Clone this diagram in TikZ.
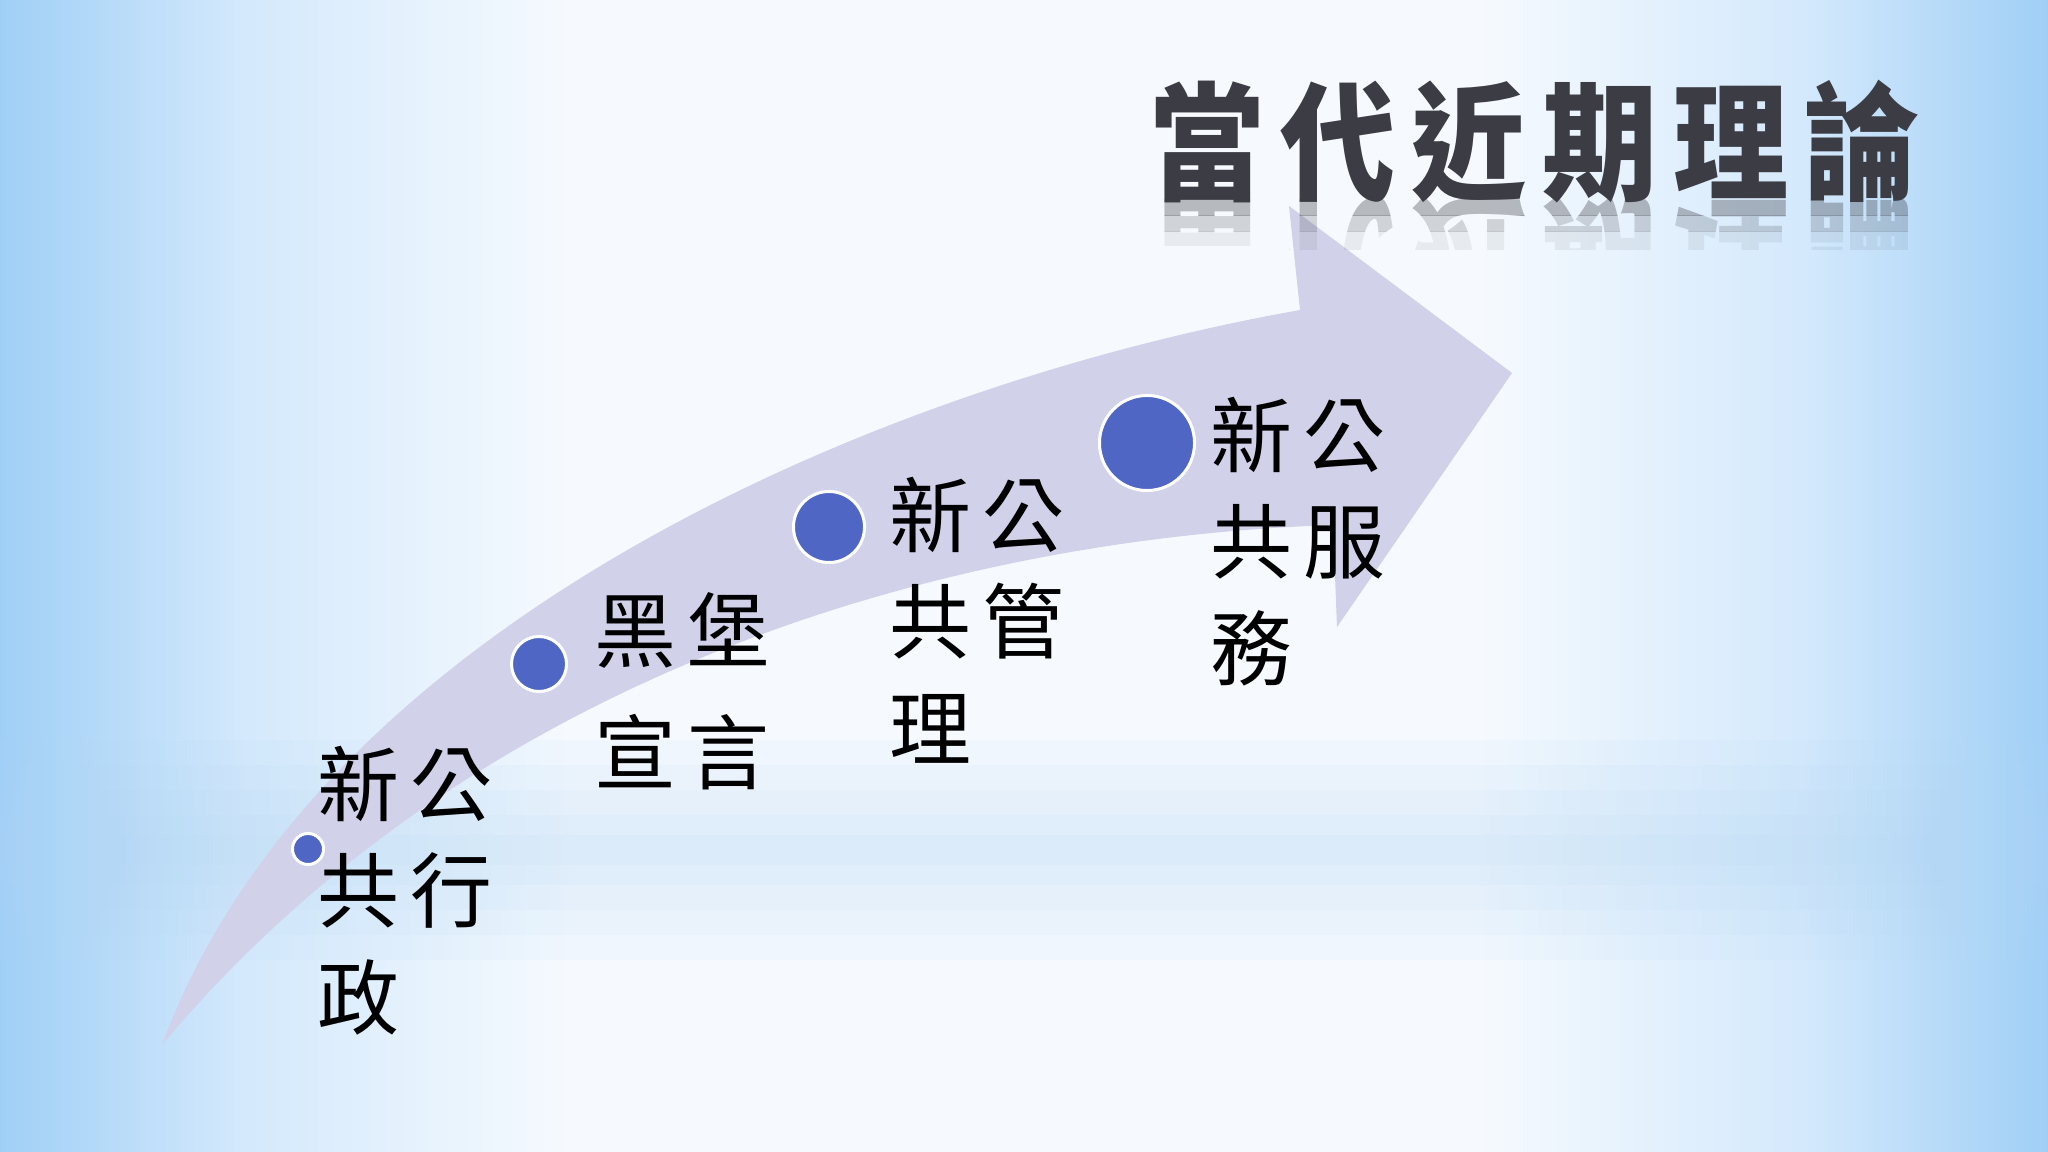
\documentclass[tikz,border=0pt]{standalone}
\usepackage{fontspec}
\newfontfamily\cjk{Noto Sans CJK TC}

\definecolor{bgblue}{RGB}{160,207,246}
\definecolor{bglight}{RGB}{212,233,252}
\definecolor{bgwhite}{RGB}{246,250,254}
\definecolor{bandblue}{RGB}{180,215,246}
\definecolor{arrowfill}{RGB}{209,209,234}
\definecolor{dotblue}{RGB}{79,102,196}
\definecolor{titlegray}{RGB}{60,60,68}

% the path is mapped onto 25bp..75bp of the shading
\pgfdeclarehorizontalshading{slidebg}{100bp}{color(0bp)=(bgblue); color(25bp)=(bgblue); color(31bp)=(bglight); color(39bp)=(bgwhite); color(61bp)=(bgwhite); color(69bp)=(bglight); color(75bp)=(bgblue); color(100bp)=(bgblue)}

\newcommand\cg{\hspace{3.1pt}}
\newcommand\tg{\hspace{5pt}}

\begin{document}
\begin{tikzpicture}[x=0.01cm, y=-0.01cm,
    dot/.style={circle, fill=dotblue, draw=white, line width=0.03cm, inner sep=0pt},
    lbl/.style={anchor=north west, inner sep=0pt, align=left,
        font=\cjk\fontsize{23.3pt}{30.3pt}\selectfont},
    ttl/.style={anchor=base west, inner sep=0pt, text=titlegray, xscale=0.9,
        font=\cjk\bfseries\fontsize{36.4pt}{36.4pt}\selectfont}]

	% background
	\shade[shading=slidebg] (0,0) rectangle (2048,1152);
	\foreach \h in {110,85,60,35,15}
		\fill[bandblue, opacity=.09] (0,{850-\h}) rectangle (2048,{850+\h});

	% the curved arrow
	\fill[arrowfill] (162,1045) .. controls (310,640) and (850,390) .. (1300,310)
		-- (1289,206) -- (1512,373) -- (1337,627) -- (1333,525)
		.. controls (900,540) and (450,700) .. (162,1045) -- cycle;

	% title and its reflection
	\node[ttl] (title) at (1149,191) {當\tg 代\tg 近\tg 期\tg 理\tg 論};
	\foreach \ya/\yb/\op [count=\i] in {200/216/.34, 216/232/.2, 232/250/.08} {
		\begin{scope}
			\clip (1100,\ya) rectangle (1960,\yb);
			\node[ttl, yscale=-1, opacity=\op] (refl\i) at (1149,209) {當\tg 代\tg 近\tg 期\tg 理\tg 論};
		\end{scope}
	}

	% milestones
	\node[dot, minimum size=0.31cm] (d1) at (308,849) {};
	\node[dot, minimum size=0.55cm] (d2) at (539,664) {};
	\node[dot, minimum size=0.71cm] (d3) at (829,527) {};
	\node[dot, minimum size=0.95cm] (d4) at (1147,443) {};

	\node[lbl] (npa) at (317,745) {新\cg 公\\共\cg 行\\政};
	\node[lbl] (bw) at (594,592) {黑\cg 堡\\[4.3pt]宣\cg 言};
	\node[lbl] (npm) at (889,476) {新\cg 公\\共\cg 管\\理};
	\node[lbl] (nps) at (1210,396) {新\cg 公\\共\cg 服\\務};
\end{tikzpicture}
\end{document}
